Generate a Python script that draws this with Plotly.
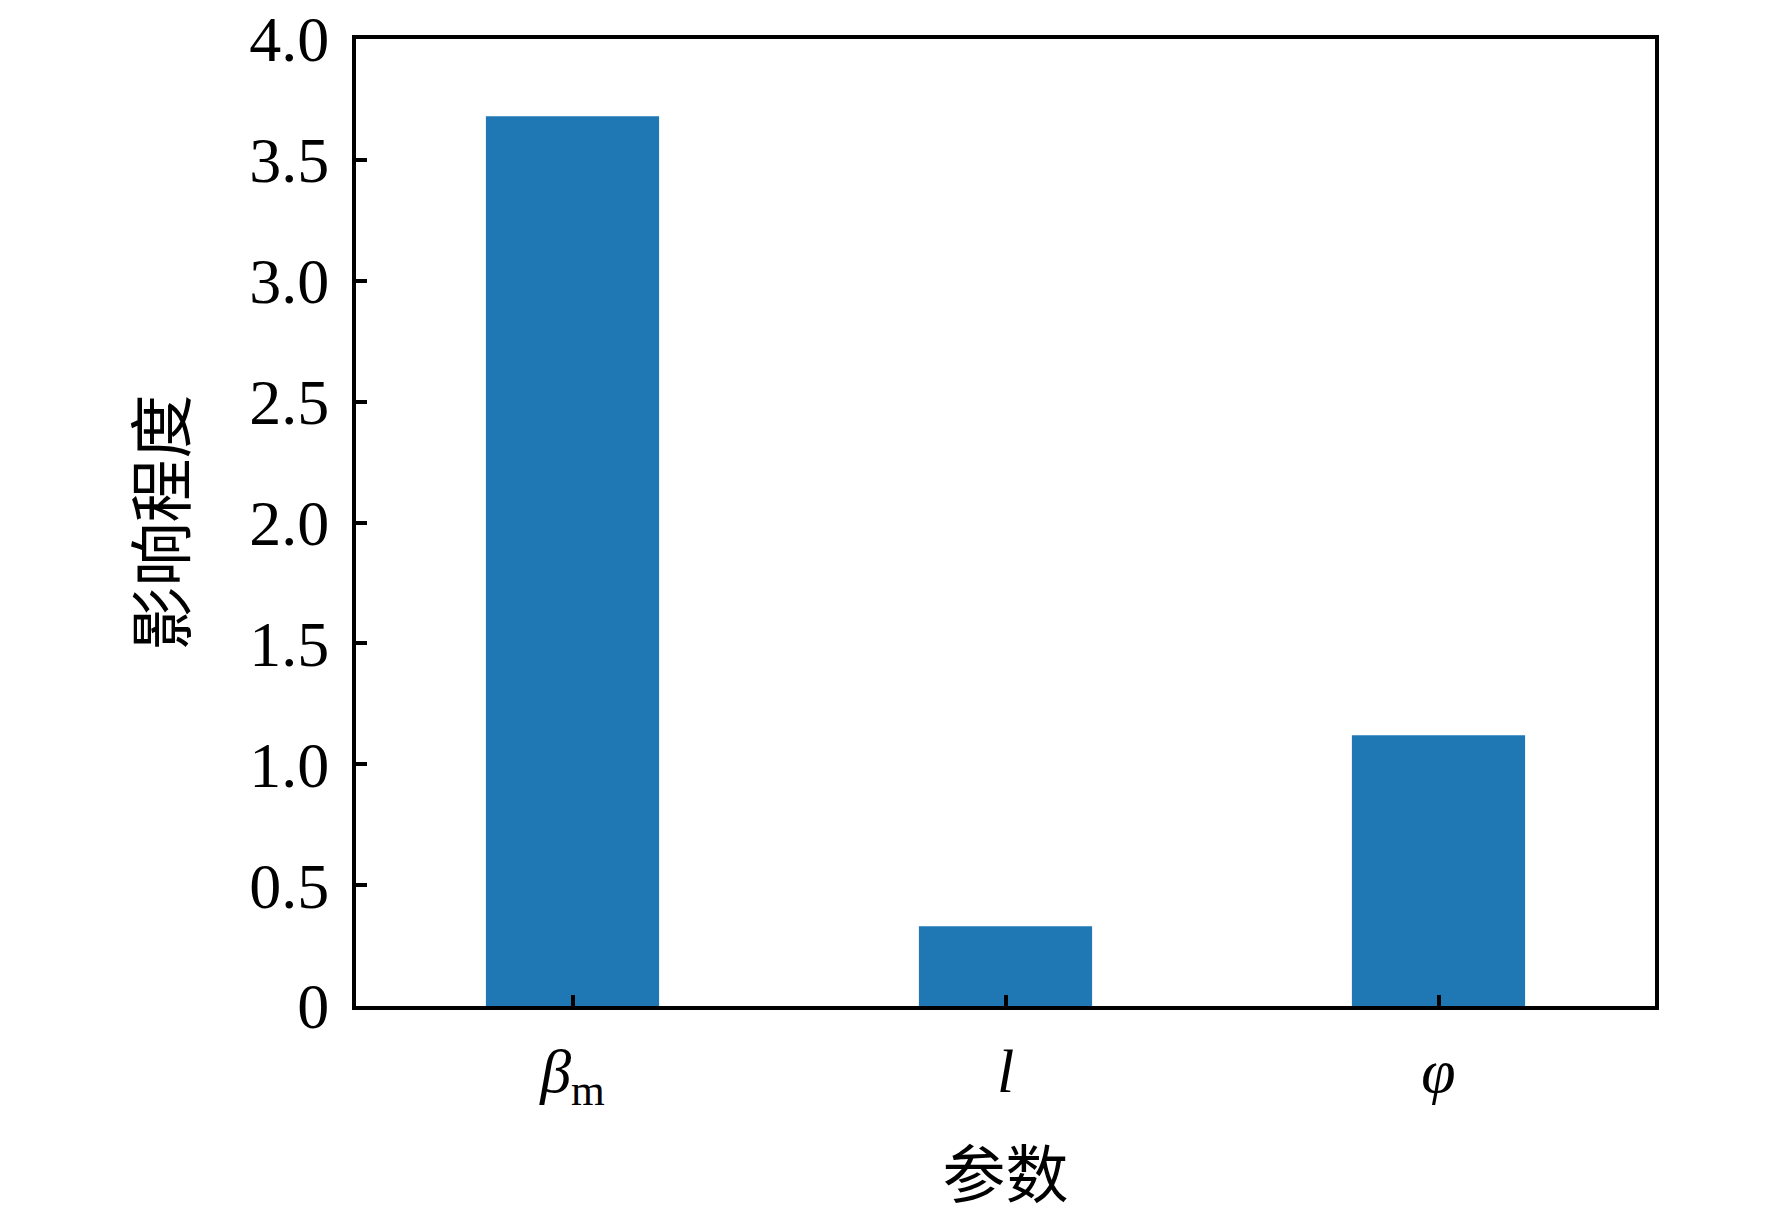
import plotly.graph_objects as go

# data
params = ["<i>β</i><sub>m</sub>", "<i>l</i>", "<i>φ</i>"]
influence = [3.68, 0.33, 1.12]
y_tickvals = [0, 0.5, 1.0, 1.5, 2.0, 2.5, 3.0, 3.5, 4.0]
y_ticktext = ["0", "0.5", "1.0", "1.5", "2.0", "2.5", "3.0", "3.5", "4.0"]

serif = "Liberation Serif, Times New Roman, serif"
cjk = "Noto Sans CJK SC"

fig = go.Figure()
fig.add_trace(go.Bar(
    x=[0, 1, 2],
    y=influence,
    width=0.4,
    marker=dict(color="#1f77b4", line=dict(width=0)),
    showlegend=False,
))

fig.update_layout(
    width=1772,
    height=1211,
    margin=dict(l=348, r=125, t=31, b=213),
    plot_bgcolor="white",
    paper_bgcolor="white",
    font=dict(family=serif, size=60, color="black"),
)

fig.update_xaxes(
    range=[-0.5, 2.5],
    tickvals=[0, 1, 2],
    ticktext=params,
    tickfont=dict(family=serif, size=62),
    ticks="inside",
    ticklen=11,
    tickwidth=3.5,
    tickcolor="black",
    ticklabelstandoff=8,
    showline=True,
    linecolor="black",
    linewidth=4,
    mirror=True,
    showgrid=False,
    zeroline=False,
    automargin=False,
    title=dict(text="参数", font=dict(family=cjk, size=63), standoff=40),
)

fig.update_yaxes(
    range=[0, 4],
    tickvals=y_tickvals,
    ticktext=y_ticktext,
    tickfont=dict(family=serif, size=64),
    ticks="inside",
    ticklen=11,
    tickwidth=3.5,
    tickcolor="black",
    ticklabelstandoff=10,
    ticklabeloverflow="allow",
    showline=True,
    linecolor="black",
    linewidth=4,
    mirror=True,
    showgrid=False,
    zeroline=False,
    automargin=False,
    title=dict(text="影响程度", font=dict(family=cjk, size=64), standoff=44),
)

fig.write_html("out.html")
